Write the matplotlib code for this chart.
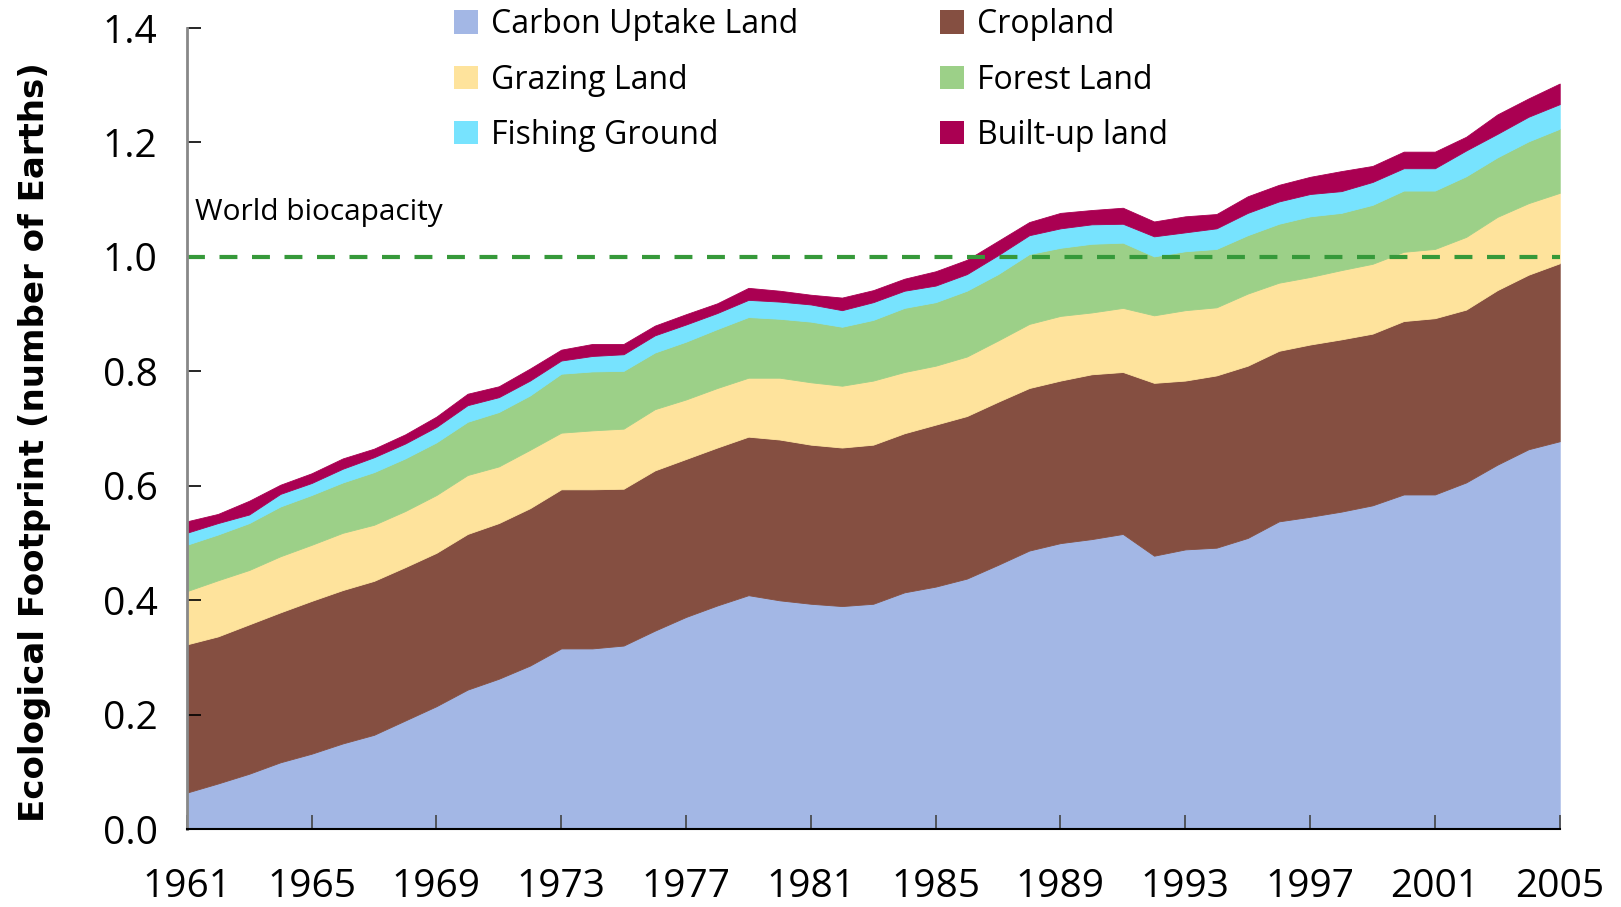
import matplotlib
matplotlib.use("Agg")
import matplotlib.pyplot as plt
from matplotlib.patches import Patch
import numpy as np

# Ecological footprint by land type, number of Earths
years = list(range(1961, 2006))

carbon = [0.064, 0.080, 0.097, 0.117, 0.132, 0.150, 0.165, 0.190, 0.215, 0.244,
          0.263, 0.286, 0.316, 0.316, 0.321, 0.347, 0.371, 0.391, 0.409, 0.400,
          0.394, 0.390, 0.394, 0.414, 0.424, 0.438, 0.462, 0.487, 0.500, 0.507,
          0.516, 0.478, 0.489, 0.492, 0.509, 0.538, 0.546, 0.555, 0.566, 0.585,
          0.585, 0.606, 0.637, 0.664, 0.678]
cropland = [0.259, 0.257, 0.261, 0.262, 0.267, 0.268, 0.269, 0.268, 0.268, 0.272,
            0.272, 0.275, 0.278, 0.278, 0.274, 0.280, 0.276, 0.276, 0.277, 0.281,
            0.278, 0.277, 0.278, 0.278, 0.283, 0.284, 0.285, 0.284, 0.284, 0.288,
            0.283, 0.302, 0.295, 0.301, 0.301, 0.298, 0.301, 0.301, 0.300, 0.303,
            0.308, 0.302, 0.305, 0.305, 0.311]
grazing = [0.093, 0.098, 0.095, 0.098, 0.098, 0.100, 0.098, 0.098, 0.101, 0.103,
           0.099, 0.102, 0.099, 0.103, 0.105, 0.107, 0.104, 0.104, 0.103, 0.108,
           0.109, 0.108, 0.112, 0.107, 0.103, 0.104, 0.107, 0.112, 0.113, 0.108,
           0.112, 0.118, 0.123, 0.119, 0.126, 0.119, 0.118, 0.121, 0.122, 0.121,
           0.121, 0.127, 0.128, 0.125, 0.123]
forest = [0.081, 0.080, 0.082, 0.087, 0.087, 0.088, 0.092, 0.092, 0.092, 0.093,
          0.095, 0.095, 0.103, 0.103, 0.101, 0.099, 0.101, 0.103, 0.106, 0.103,
          0.106, 0.103, 0.106, 0.112, 0.111, 0.115, 0.116, 0.122, 0.119, 0.120,
          0.114, 0.103, 0.103, 0.102, 0.102, 0.103, 0.106, 0.100, 0.103, 0.107,
          0.102, 0.106, 0.104, 0.108, 0.112]
fishing = [0.021, 0.020, 0.015, 0.022, 0.021, 0.024, 0.026, 0.026, 0.027, 0.029,
           0.026, 0.026, 0.023, 0.027, 0.029, 0.030, 0.030, 0.028, 0.030, 0.030,
           0.030, 0.029, 0.031, 0.030, 0.029, 0.029, 0.033, 0.033, 0.034, 0.034,
           0.033, 0.035, 0.033, 0.036, 0.039, 0.039, 0.039, 0.038, 0.040, 0.039,
           0.039, 0.045, 0.041, 0.043, 0.043]
builtup = [0.020, 0.016, 0.024, 0.016, 0.017, 0.018, 0.015, 0.016, 0.018, 0.020,
           0.019, 0.021, 0.019, 0.021, 0.018, 0.017, 0.018, 0.017, 0.021, 0.019,
           0.017, 0.022, 0.021, 0.021, 0.025, 0.025, 0.025, 0.023, 0.027, 0.025,
           0.028, 0.026, 0.028, 0.025, 0.029, 0.029, 0.030, 0.035, 0.028, 0.029,
           0.029, 0.024, 0.034, 0.032, 0.036]

labels = ["Carbon Uptake Land", "Cropland", "Grazing Land",
          "Forest Land", "Fishing Ground", "Built-up land"]
colors = ["#a3b7e5", "#854f41", "#fee39c", "#9cd088", "#77e3fe", "#aa0052"]
biocapacity = 1.0

plt.rcParams["font.family"] = ["Open Sans", "DejaVu Sans"]

fig = plt.figure(figsize=(16.21, 9.07), dpi=100)
ax = fig.add_axes([0.1152, 0.0857, 0.8470, 0.8834])

polys = ax.stackplot(years, carbon, cropland, grazing, forest, fishing, builtup,
                     colors=colors, linewidth=0)
for p, c in zip(polys, colors):
    p.set_edgecolor(c)
    p.set_linewidth(0.6)

line = ax.axhline(biocapacity, color="#36993a", lw=3)
line.set_dashes([4.3, 3.5])
ax.text(1961.25, 1.077, "World biocapacity", fontsize=21.5, va="center", ha="left")

ax.set_xlim(1961, 2005)
ax.set_ylim(0, 1.4)
ax.set_xticks(range(1961, 2006, 4))
ax.set_yticks(np.arange(0, 1.41, 0.2))
ax.yaxis.set_major_formatter(matplotlib.ticker.FormatStrFormatter("%.1f"))
ax.tick_params(axis="both", direction="in", length=10, width=1.2, labelsize=28)
ax.tick_params(axis="y", pad=21)
ax.tick_params(axis="x", pad=28, color="#444444")

ax.spines["top"].set_visible(False)
ax.spines["right"].set_visible(False)
ax.spines["left"].set_color("#888888")
ax.spines["left"].set_linewidth(2)
ax.spines["bottom"].set_linewidth(1.5)

fig.text(0.0215, 0.5127, "Ecological Footprint (number of Earths)", rotation=90,
         ha="center", va="center", fontsize=24.5, fontweight="bold",
         family="DejaVu Sans")

# legend: rows read across, so feed columns in order
order = [0, 2, 4, 1, 3, 5]
handles = [Patch(facecolor=colors[i], edgecolor="none") for i in order]
ax.legend(handles, [labels[i] for i in order], ncol=2, frameon=False,
          loc="upper left", bbox_to_anchor=(0.2801, 0.991),
          bbox_transform=fig.transFigure, fontsize=23, borderpad=0,
          borderaxespad=0, handlelength=0.75, handleheight=0.75,
          handletextpad=0.4, labelspacing=0.7, columnspacing=4.45)

fig.savefig("out.png", dpi=100)
